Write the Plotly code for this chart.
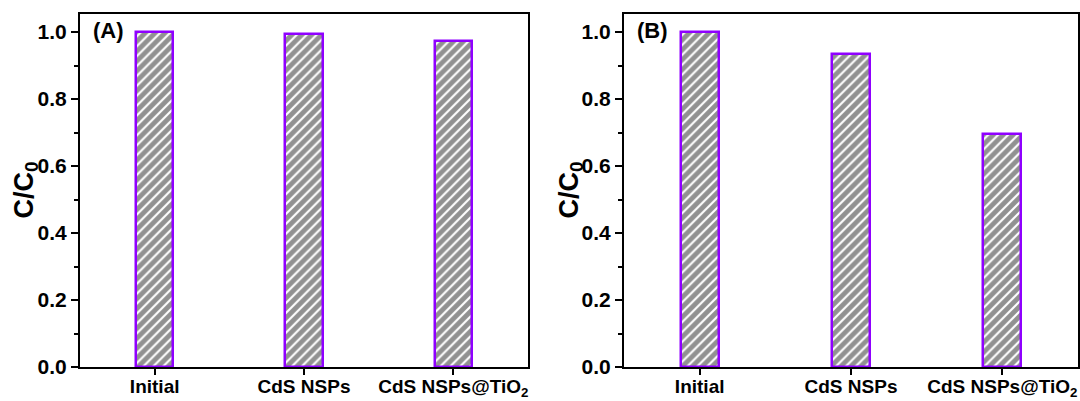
import plotly.graph_objects as go

# Samples and normalized concentrations C/C0 for the two panels
categories = ["Initial", "CdS NSPs", "CdS NSPs@TiO<sub>2</sub>"]
values_a = [1.0, 0.995, 0.972]
values_b = [1.0, 0.934, 0.695]
y_ticks = [0.0, 0.2, 0.4, 0.6, 0.8, 1.0]
y_tick_text = ["0.0", "0.2", "0.4", "0.6", "0.8", "1.0"]

FONT = "Liberation Sans, Arial, sans-serif"
BAR_EDGE = "#8f00ff"
BAR_FILL = "#919191"


def bar_trace(vals, xa, ya):
    return go.Bar(
        x=categories, y=vals, xaxis=xa, yaxis=ya, width=0.25,
        marker=dict(
            color=BAR_FILL,
            line=dict(color=BAR_EDGE, width=2.5),
            pattern=dict(shape="/", fgcolor="white", bgcolor=BAR_FILL,
                         size=7, solidity=0.3, fillmode="replace"),
        ),
        showlegend=False,
    )


fig = go.Figure()
fig.add_trace(bar_trace(values_a, "x", "y"))
fig.add_trace(bar_trace(values_b, "x2", "y2"))

W, H = 1080, 401
ml, mr, mt, mb = 80, 2, 14, 34
pw = W - ml - mr

xa_common = dict(
    range=[-0.5, 2.5], showline=True, linecolor="black", linewidth=2,
    mirror=True, ticks="outside", ticklen=6, tickwidth=2, tickcolor="black",
    ticklabelstandoff=-5,
    tickfont=dict(family=FONT, size=19, color="black", weight="bold"),
    showgrid=False, zeroline=False, fixedrange=True, automargin=False,
)
ya_common = dict(
    range=[0, 1.054], showline=True, linecolor="black", linewidth=2,
    mirror=True, ticks="outside", ticklen=7, tickwidth=2, tickcolor="black",
    tickvals=y_ticks, ticktext=y_tick_text,
    minor=dict(dtick=0.1, ticks="outside", ticklen=4, tickwidth=2, tickcolor="black"),
    tickfont=dict(family=FONT, size=21, color="black", weight="bold"),
    showgrid=False, zeroline=False, fixedrange=True, automargin=False,
)

fig.update_layout(
    width=W, height=H,
    margin=dict(l=ml, r=mr, t=mt, b=mb),
    paper_bgcolor="white", plot_bgcolor="white",
    bargap=0,
    xaxis=dict(domain=[0, (528 - ml) / pw], anchor="y", **xa_common),
    yaxis=dict(domain=[0, 1], anchor="x", **ya_common),
    xaxis2=dict(domain=[(624 - ml) / pw, 1], anchor="y2", **xa_common),
    yaxis2=dict(domain=[0, 1], anchor="x2", **ya_common),
)

# Axis titles and panel labels
for xpx, label, lx in [(25, "(A)", 91), (570, "(B)", 635)]:
    fig.add_annotation(
        text="C/C<sub>0</sub>", textangle=-90, xref="paper", yref="paper",
        x=(xpx - ml) / pw, y=0.5, showarrow=False,
        font=dict(family=FONT, size=27, color="black", weight="bold"),
        xanchor="center", yanchor="middle",
    )
    fig.add_annotation(
        text=label, xref="paper", yref="paper",
        x=(lx - ml) / pw, y=1 - 2 / (H - mt - mb), showarrow=False,
        font=dict(family=FONT, size=22, color="black", weight="bold"),
        xanchor="left", yanchor="top",
    )

fig.write_html("out.html")
